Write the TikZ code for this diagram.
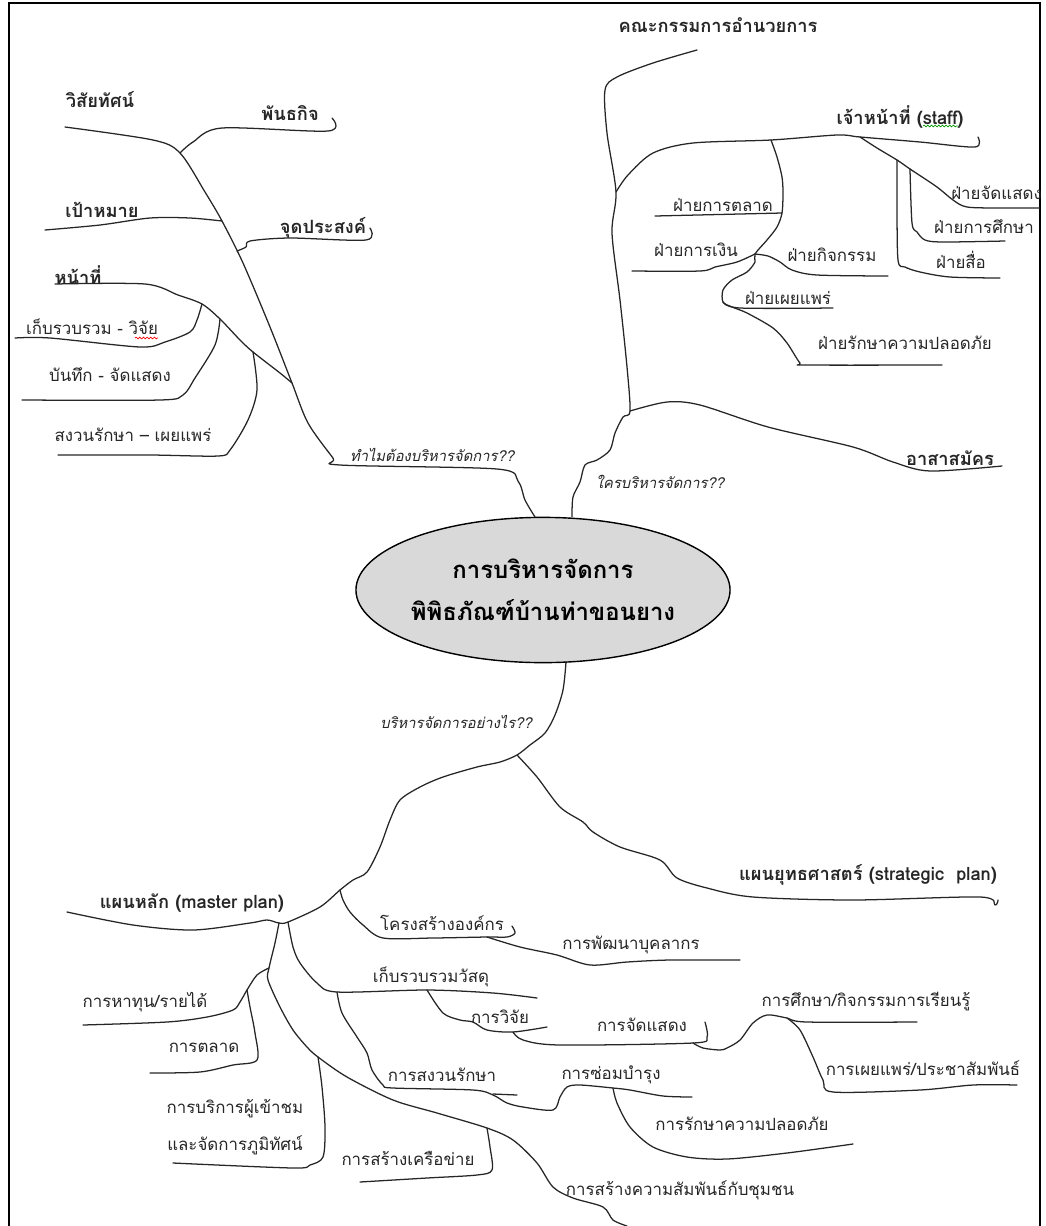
\documentclass[tikz,border=0pt]{standalone}
\usepackage{fontspec}
\setmainfont[Script=Thai]{Loma}
\usetikzlibrary{shapes.geometric,decorations.pathmorphing}

\begin{document}
\begin{tikzpicture}[x=0.025cm,y=-0.025cm,
  branch/.style={line width=0.9pt,black!85,line join=round,line cap=round},
  lbl/.style={inner sep=0pt,text=black!85,font=\fontsize{12}{14}\selectfont},
  lblb/.style={lbl,font=\fontsize{13}{15}\selectfont\bfseries},
  ask/.style={lbl,font=\fontsize{10.5}{13}\selectfont\itshape},
  hub/.style={ellipse,draw,line width=1pt,fill=black!15,inner sep=0pt,minimum width=9.35cm,minimum height=3.63cm,align=center,font=\fontsize{17}{30}\selectfont\bfseries},
  squig/.style={decorate,decoration={snake,amplitude=0.6pt,segment length=2.6pt},line width=0.5pt}]
\useasboundingbox (0,0) rectangle (1046,1226);
\draw[line width=0.8pt] (9,1226) -- (9,3) -- (1040,3) -- (1040,1226);

% centre
\node[hub] (center) at (543,590) {การบริหารจัดการ\\พิพิธภัณฑ์บ้านท่าขอนยาง};

% junctions
\coordinate (jmission) at (180,153);
\coordinate (jgoal) at (222,221);
\coordinate (jobj) at (237,251);
\coordinate (jduty) at (292,383);
\coordinate (jcollect) at (202,304);
\coordinate (jrecord) at (220,319);
\coordinate (jconserve) at (253,352);
\coordinate (jstaff) at (616,192);
\coordinate (jvol) at (630,411);
\coordinate (jdept) at (771,140);
\coordinate (jright) at (860,137);
\coordinate (jfin) at (755,254);
\coordinate (jpub) at (723,302);
\coordinate (jmedia) at (897,160);
\coordinate (jedu) at (910,169);
\coordinate (jstrat) at (517,755);
\coordinate (jorg) at (340,890);
\coordinate (jcoll) at (288,922);
\coordinate (jcom) at (279,923);
\coordinate (jfund) at (269,968);
\coordinate (jmarket) at (247,990);
\coordinate (jvisit) at (318,1057);
\coordinate (jnet) at (487,1128);
\coordinate (jhrd) at (487,937);
\coordinate (jres) at (427,990);
\coordinate (jpres) at (337,992);
\coordinate (jdisp) at (513,1032);
\coordinate (jshow) at (693,1043);
\coordinate (jpr) at (787,1018);
\coordinate (jsafe) at (613,1088);

% why
\draw[branch] plot[smooth,tension=0.5] coordinates {(535,517) (525,500) (518,481) (497,469) (340,465) (333,458) (308,423) (jduty) (270,327) (243,263) (jgoal) (205,192) (jmission) (153,140) (65,127)};
\draw[branch] plot[smooth,tension=0.5] coordinates {(jmission) (193,142) (222,128) (328,131) (332,118)};
\draw[branch] plot[smooth,tension=0.5] coordinates {(jgoal) (190,218) (150,218) (100,225) (45,230)};
\draw[branch] plot[smooth,tension=0.5] coordinates {(jobj) (246,247) (250,241) (290,238) (366,240) (370,228)};
\draw[branch] plot[smooth,tension=0.5] coordinates {(jduty) (280,373) (jconserve) (240,340) (jrecord) (jcollect) (178,295) (145,284) (55,284)};
\draw[branch] plot[smooth,tension=0.5] coordinates {(jcollect) (197,320) (190,332) (165,342) (140,347) (50,338) (15,338)};
\draw[branch] plot[smooth,tension=0.5] coordinates {(jrecord) (215,345) (195,378) (183,395) (160,400) (22,400)};
\draw[branch] plot[smooth,tension=0.5] coordinates {(jconserve) (257,390) (248,420) (230,450) (218,456) (150,455) (58,455)};
\node[lblb] (vision) at (100,100) {วิสัยทัศน์};
\node[lblb] (mission) at (290,113) {พันธกิจ};
\node[lblb] (goal) at (102,210) {เป้าหมาย};
\node[lblb] (objective) at (323,228) {จุดประสงค์};
\node[lblb] (duty) at (78,275) {หน้าที่};
\node[lbl] (collect) at (92,327) {เก็บรวบรวม - วิจัย};
\node[lbl] (record) at (110,375) {บันทึก - จัดแสดง};
\node[lbl] (conserve) at (133,435) {สงวนรักษา – เผยแพร่};
\node[ask] (why) at (432,455) {ทำไมต้องบริหารจัดการ??};
\draw[squig,red] (135,338) -- (158,338);

% who
\draw[branch] plot[smooth,tension=0.5] coordinates {(572,517) (573,497) (580,482) (585,465) (597,460) (610,450) (615,433) (623,417) (jvol) (627,367) (620,300) (612,233) (jstaff) (607,133) (605,90) (617,77) (653,63) (697,50)};
\draw[branch] plot[smooth,tension=0.5] coordinates {(jvol) (667,402) (700,405) (768,427) (853,447) (893,462) (930,471) (1002,466)};
\draw[branch] plot[smooth,tension=0.5] coordinates {(jstaff) (628,175) (653,153) (693,143) (jdept) (837,135) (jright) (920,142) (975,147) (978,137)};
\draw[branch] plot[smooth,tension=0.5] coordinates {(jdept) (777,157) (782,177) (783,193) (782,213) (777,227) (767,240) (jfin) (755,262) (747,272) (732,280) (723,290) (jpub) (732,307) (747,313) (773,328) (787,343) (800,363) (807,365) (942,365)};
\draw[branch] (655,216) -- (782,213);
\draw[branch] plot[smooth,tension=0.5] coordinates {(632,271) (700,271) (715,267) (737,262) (jfin)};
\draw[branch] plot[smooth,tension=0.5] coordinates {(jfin) (768,256) (780,262) (792,270) (817,275) (888,276)};
\draw[branch] plot[smooth,tension=0.5] coordinates {(jpub) (740,308) (833,308)};
\draw[branch] plot[smooth,tension=0.5] coordinates {(jright) (877,148) (jmedia) (jedu) (937,187) (953,200) (967,207) (1000,208) (1040,208)};
\draw[branch] plot[smooth,tension=0.5] coordinates {(jmedia) (897,200) (898,260) (905,267) (920,272) (950,277) (1000,278)};
\draw[branch] plot[smooth,tension=0.5] coordinates {(jedu) (912,223) (917,232) (925,240) (943,242) (1005,241)};
\node[ask] (who) at (660,482) {ใครบริหารจัดการ??};
\node[lblb] (board) at (718,25) {คณะกรรมการอำนวยการ};
\node[lblb] (staff) at (900,117) {เจ้าหน้าที่ (staff)};
\draw[squig,green!60!black] (923,126) -- (958,126);
\node[lbl] (mkt) at (723,205) {ฝ่ายการตลาด};
\node[lbl] (fin) at (696,250) {ฝ่ายการเงิน};
\node[lbl] (act) at (832,255) {ฝ่ายกิจกรรม};
\node[lbl] (pub) at (788,298) {ฝ่ายเผยแพร่};
\node[lbl] (sec) at (905,343) {ฝ่ายรักษาความปลอดภัย};
\node[lbl,anchor=west] (exh) at (951,193) {ฝ่ายจัดแสดง};
\node[lbl] (edu) at (984,227) {ฝ่ายการศึกษา};
\node[lbl] (media) at (961,260) {ฝ่ายสื่อ};
\node[lblb] (volunteer) at (950,458) {อาสาสมัคร};

% how
\draw[branch] plot[smooth,tension=0.5] coordinates {(566,662) (563,690) (555,715) (545,733) (530,745) (jstrat) (500,762) (477,767) (443,777) (420,787) (400,800) (390,820) (380,847) (367,872) (353,880) (jorg) (320,907) (jcoll) (jcom) (267,920) (250,923) (193,930) (133,925) (67,912)};
\draw[branch] plot[smooth,tension=0.5] coordinates {(jstrat) (537,777) (560,807) (583,822) (593,832) (620,847) (660,860) (677,878) (707,888) (753,897) (853,900) (980,897) (995,905) (998,900)};
\draw[branch] plot[smooth,tension=0.5] coordinates {(jorg) (343,900) (350,912) (363,925) (383,938) (433,938) (jhrd) (507,937) (515,933) (512,926)};
\draw[branch] plot[smooth,tension=0.5] coordinates {(jhrd) (520,947) (557,955) (590,965) (627,962) (670,960) (740,960)};
\draw[branch] plot[smooth,tension=0.5] coordinates {(jcoll) (293,947) (300,963) (317,983) (jpres) (jres) (493,993) (537,998)};
\draw[branch] plot[smooth,tension=0.5] coordinates {(jres) (443,1013) (460,1020) (473,1022) (487,1030) (jdisp) (547,1027)};
\draw[branch] plot[smooth,tension=0.5] coordinates {(jdisp) (523,1040) (560,1045) (jshow) (707,1037) (705,1022)};
\draw[branch] plot[smooth,tension=0.5] coordinates {(jshow) (703,1048) (720,1050) (727,1048) (740,1040) (753,1023) (767,1015) (jpr) (807,1022) (917,1022)};
\draw[branch] plot[smooth,tension=0.5] coordinates {(jpr) (800,1030) (813,1057) (823,1080) (833,1092) (920,1090) (973,1085) (1017,1085)};
\draw[branch] plot[smooth,tension=0.5] coordinates {(jpres) (342,1013) (357,1037) (367,1053) (372,1070) (383,1085) (393,1088) (473,1090) (493,1095) (507,1103) (523,1107) (553,1110) (560,1097) (567,1087) (580,1085) (jsafe) (630,1090) (663,1096) (692,1097)};
\draw[branch] (493,1094) -- (517,1095);
\draw[branch] plot[smooth,tension=0.5] coordinates {(jsafe) (617,1103) (630,1127) (653,1147) (687,1157) (727,1159) (787,1153) (853,1144)};
\draw[branch] plot[smooth,tension=0.5] coordinates {(jcom) (275,943) (jfund) (268,980) (280,1007) (293,1030) (307,1047) (jvisit) (347,1077) (393,1100) (437,1113) (jnet) (513,1140) (537,1163) (553,1187) (573,1198) (603,1207) (613,1220) (627,1226)};
\draw[branch] plot[smooth,tension=0.5] coordinates {(jfund) (257,975) (jmarket) (240,1002) (233,1010) (207,1017) (167,1022) (83,1025)};
\draw[branch] plot[smooth,tension=0.5] coordinates {(jmarket) (250,1007) (255,1033) (257,1060) (233,1065) (200,1072) (150,1073)};
\draw[branch] plot[smooth,tension=0.5] coordinates {(jnet) (490,1147) (492,1170) (477,1175) (427,1178) (360,1182)};
\draw[branch] plot[smooth,tension=0.5] coordinates {(jvisit) (322,1087) (325,1127) (323,1157) (310,1165) (293,1168) (173,1163)};
\node[ask] (how) at (456,722) {บริหารจัดการอย่างไร??};
\node[lblb] (master) at (192,903) {แผนหลัก (master plan)};
\node[lblb] (strategic) at (868,875) {แผนยุทธศาสตร์ (strategic\ \ plan)};
\node[lbl] (org) at (442,923) {โครงสร้างองค์กร};
\node[lbl] (hrd) at (631,945) {การพัฒนาบุคลากร};
\node[lbl] (coll) at (431,977) {เก็บรวบรวมวัสดุ};
\node[lbl] (research) at (500,1017) {การวิจัย};
\node[lbl] (display) at (642,1025) {การจัดแสดง};
\node[lbl] (learn) at (866,1002) {การศึกษา/กิจกรรมการเรียนรู้};
\node[lbl] (pr) at (923,1068) {การเผยแพร่/ประชาสัมพันธ์};
\node[lbl] (preserve) at (442,1075) {การสงวนรักษา};
\node[lbl] (repair) at (611,1075) {การซ่อมบำรุง};
\node[lbl] (safety) at (742,1124) {การรักษาความปลอดภัย};
\node[lbl] (community) at (680,1190) {การสร้างความสัมพันธ์กับชุมชน};
\node[lbl] (network) at (408,1158) {การสร้างเครือข่าย};
\node[lbl,align=center,font=\fontsize{12}{26}\selectfont] (visitor) at (235,1127) {การบริการผู้เข้าชม\\และจัดการภูมิทัศน์};
\node[lbl] (fund) at (145,1002) {การหาทุน/รายได้};
\node[lbl] (market) at (204,1048) {การตลาด};
\end{tikzpicture}
\end{document}
